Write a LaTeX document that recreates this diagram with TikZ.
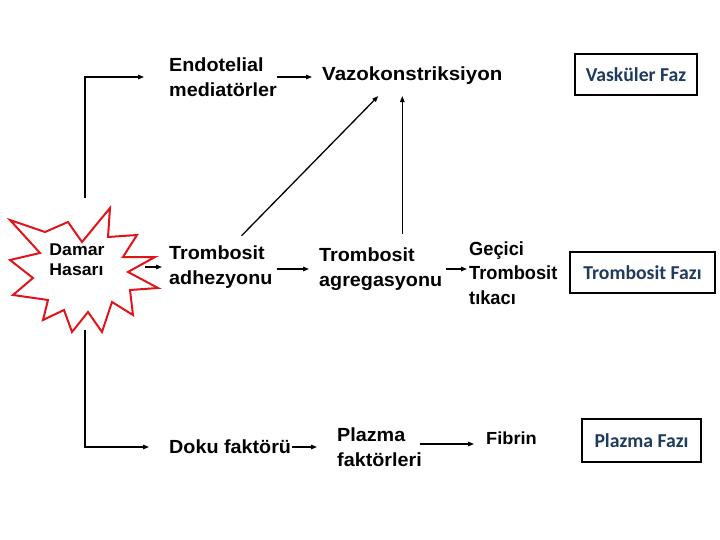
\documentclass[tikz,border=0pt]{standalone}
\usepackage{fontspec}
\setmainfont{Liberation Sans}[FakeStretch=1.04]
\newfontfamily\vazofont{Liberation Sans}[FakeStretch=1.08]
\newfontfamily\gecfont{Liberation Sans}[FakeStretch=0.96]
\newfontfamily\calfont{Carlito}
\usetikzlibrary{arrows.meta,calc}
\definecolor{boxblue}{HTML}{1F3B5E}
\definecolor{starred}{HTML}{E0141B}
\tikzset{
  lbl/.style={anchor=west,inner sep=0pt,align=left,font=\fontsize{19}{24.5}\selectfont\bfseries},
  fazbox/.style={draw=black,line width=2pt,inner sep=0pt,font=\calfont\fontsize{19.7}{22}\selectfont\bfseries,text=boxblue},
  arr/.style={line width=1.3pt,-{Triangle[length=6pt,width=4.5pt]}}
}
\begin{document}
\begin{tikzpicture}[x=1pt,y=-1pt]
\useasboundingbox (0,0) rectangle (720,540);
\fill[white] (0,0) rectangle (720,540);
% starburst
\filldraw[fill=white,draw=starred,line width=2pt,line join=miter]
 (10,220) -- (45,232) -- (68,222) -- (82,242) -- (110,208) -- (108,237) -- (137,235)
 -- (123,257) -- (155,257) -- (128,272) -- (158,288) -- (130,290) -- (133,315)
 -- (112,302) -- (102,332) -- (88,312) -- (72,332) -- (64,310) -- (43,320)
 -- (48,300) -- (13,295) -- (33,278) -- (10,260) -- (40,253) -- cycle;
\node[minimum width=150pt,minimum height=132pt,inner sep=0pt] (dmg) at (85,264) {};
\node[inner sep=0pt,align=left,font=\fontsize{17}{20}\selectfont\bfseries] (dmgt) at (77,260) {Damar\\Hasarı};

\node[lbl] (endo) at (169,77) {Endotelial\\mediatörler};
\node[lbl,font=\vazofont\fontsize{19}{24.5}\selectfont\bfseries] (vazo) at (322,76) {Vazokonstriksiyon};
\node[fazbox,minimum width=122pt,minimum height=41pt] (vask) at (636,74.5) {Vasküler Faz};

\node[lbl] (adh) at (169,267) {Trombosit\\adhezyonu};
\node[lbl] (agr) at (319,269) {Trombosit\\agregasyonu};
\node[lbl,font=\gecfont\fontsize{19}{24.5}\selectfont\bfseries] (gec) at (469,273) {Geçici\\Trombosit\\tıkacı};
\node[fazbox,minimum width=145pt,minimum height=41pt] (tfaz) at (642.5,272.5) {Trombosit Fazı};

\node[lbl] (doku) at (169,447) {Doku faktörü};
\node[lbl] (plz) at (337,447) {Plazma\\faktörleri};
\node[lbl,font=\fontsize{17.5}{22}\selectfont\bfseries] (fib) at (486,438) {Fibrin};
\node[fazbox,minimum width=119pt,minimum height=43pt] (pfaz) at (641.5,440.5) {Plazma Fazı};

% connectors
\draw[arr,shorten >=25pt] (dmg.north) |- (endo.west);
\draw[arr,shorten >=10pt] (endo.east) -- (vazo.west |- endo.east);
\draw[arr] ($(adh.north east)+(-31,-10)$) -- ($(vazo.south)+(-34,11)$);
\draw[arr] ($(agr.north -| vazo.south)+(-10,-14)$) -- ($(vazo.south)+(-10,11)$);
\draw[arr] ([xshift=-15pt]dmg.east |- adh.west) -- ([xshift=-7pt]adh.west);
\draw[arr] ([xshift=4pt]adh.east |- agr.west) -- ([xshift=-10pt]agr.west);
\draw[arr] ([xshift=4pt]agr.east) -- ([xshift=-2pt]gec.west |- agr.east);
\draw[arr,shorten >=20pt] (dmg.south) |- (doku.west);
\draw[arr] ([xshift=1pt]doku.east) -- ([xshift=-20pt]plz.west);
\draw[arr] ($(plz.east |- fib.west)+(-2,6)$) -- ($(fib.west)+(-12,6)$);
\end{tikzpicture}
\end{document}
